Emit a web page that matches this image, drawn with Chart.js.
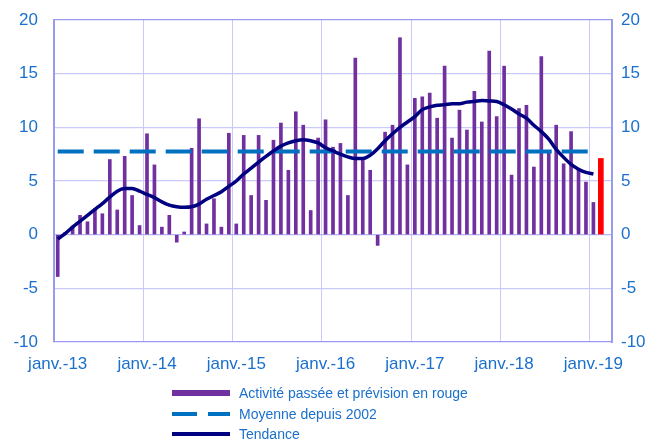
<!DOCTYPE html>
<html>
<head>
<meta charset="utf-8">
<script src="https://cdn.jsdelivr.net/npm/chart.js@4/dist/chart.umd.min.js"></script>
<style>
  html, body { margin: 0; padding: 0; background: #fff; }
  #wrap { position: relative; width: 649px; height: 441px; }
  #legende { position: absolute; left: 172px; top: 383px; font-family: "Liberation Sans", Arial, sans-serif; font-size: 14px; color: #1a70cc; }
  .item { position: relative; height: 20.7px; line-height: 20px; padding-left: 67px; white-space: nowrap; }
  .sym { position: absolute; left: 0; top: 8px; height: 4px; }
</style>
</head>
<body>
<div id="wrap">
  <canvas id="graphique" width="649" height="441"></canvas>
  <div id="legende">
    <div class="item"><span class="sym" style="width:58px;height:6px;top:7px;background:#7030a0"></span>Activité passée et prévision en rouge</div>
    <div class="item"><span class="sym" style="width:25px;background:#0070c0"></span><span class="sym" style="left:36px;width:22px;background:#0070c0"></span>Moyenne depuis 2002</div>
    <div class="item"><span class="sym" style="width:58px;background:#000080"></span>Tendance</div>
  </div>
</div>
<script>
(function () {
    "use strict";

    // ---------------- données ---------------- //
    var mois = ['janv.', 'févr.', 'mars', 'avr.', 'mai', 'juin', 'juil.', 'août', 'sept.', 'oct.', 'nov.', 'déc.'];
    var annees = ['13', '14', '15', '16', '17', '18', '19'];
    var nbMois = 75; // janv.-13 -> mars-19

    // activité mensuelle, janv.-13 à janv.-19
    var activite = [
        -3.9, 0.2, 0.8, 1.8, 1.2, 2.4, 1.95, 7.0, 2.3, 7.3, 3.65, 0.85,
        9.4, 6.5, 0.7, 1.8, -0.7, 0.25, 8.05, 10.8, 1.0, 3.35, 0.7, 9.45,
        1.0, 9.25, 3.65, 9.25, 3.2, 8.8, 10.4, 6.0, 11.45, 10.2, 2.25, 9.0,
        10.7, 8.15, 8.5, 3.65, 16.45, 7.0, 6.0, -1.0, 9.55, 10.2, 18.35, 6.5,
        12.7, 12.85, 13.2, 10.85, 15.7, 9.0, 11.6, 9.75, 13.35, 10.5, 17.1, 11.0,
        15.7, 5.55, 11.75, 12.05, 6.3, 16.6, 7.6, 10.2, 6.6, 9.6, 6.0, 4.9,
        3.0
    ];
    // prévision (en rouge)
    var previsionMois = ['févr.-19'];
    var prevision = [7.1];

    // moyenne depuis 2002
    var moyenneMois = ['janv.-13', 'janv.-19'];
    var moyenne = [7.75, 7.75];

    // tendance, janv.-13 à janv.-19
    var tendance = [
        -0.4, 0.1, 0.7, 1.25, 1.8, 2.35, 2.9, 3.5, 4.05, 4.3, 4.3, 4.05,
        3.75, 3.45, 3.05, 2.75, 2.6, 2.55, 2.6, 2.85, 3.3, 3.65, 4.0, 4.5,
        5.0, 5.65, 6.2, 6.75, 7.3, 7.8, 8.25, 8.55, 8.75, 8.85, 8.75, 8.55,
        8.1, 7.8, 7.5, 7.25, 7.1, 7.1, 7.4, 8.0, 8.75, 9.4, 10.0, 10.5,
        11.0, 11.65, 11.9, 12.05, 12.1, 12.2, 12.2, 12.35, 12.4, 12.5, 12.45, 12.4,
        12.1, 11.7, 11.25, 10.85, 10.2, 9.6, 8.9, 7.95, 7.2, 6.55, 6.1, 5.8,
        5.65
    ];

    var yMin = -10, yMax = 20, yPas = 5;

    // ---------------- styles ---------------- //
    var bleuTexte = '#1a70cc';
    var cadre = '#9a9af0';
    var grille = '#cacafa';
    var police = { family: '"Liberation Sans", Arial, sans-serif', size: 17 };

    // libellés des mois
    var categories = [];
    for (var i = 0; i < nbMois; i++) {
        categories.push(mois[i % 12] + '-' + annees[Math.floor(i / 12)]);
    }

    function pointsDe(libelles, valeurs) {
        return valeurs.map(function (v, k) { return { x: libelles[k], y: v }; });
    }

    function couleurGrilleY(ctx) {
        var v = ctx.tick ? ctx.tick.value : null;
        if (v === yMin || v === yMax) return cadre;
        if (v === 0) return '#b4b4f4';
        return grille;
    }

    // largeur fixe des axes verticaux, sans marge pour les libellés
    function axeVertical(largeur) {
        return function (s) {
            s.width = largeur;
            s.paddingTop = 0;
            s.paddingBottom = 0;
        };
    }

    var ctx = document.getElementById('graphique');
    var chart = new Chart(ctx, {
        data: {
            labels: categories,
            datasets: [
                {
                    type: 'line',
                    label: 'Tendance',
                    data: tendance,
                    borderColor: '#000080',
                    borderWidth: 3.5,
                    pointRadius: 0,
                    tension: 0.4,
                    cubicInterpolationMode: 'monotone',
                    order: 0
                },
                {
                    type: 'line',
                    label: 'Moyenne depuis 2002',
                    data: pointsDe(moyenneMois, moyenne),
                    borderColor: '#0070c0',
                    borderWidth: 4,
                    borderDash: [26, 10],
                    pointRadius: 0,
                    order: 1
                },
                {
                    type: 'bar',
                    label: 'Activité passée et prévision en rouge',
                    data: activite,
                    backgroundColor: '#7030a0',
                    barThickness: 3,
                    grouped: false,
                    order: 2
                },
                {
                    type: 'bar',
                    label: 'Prévision',
                    data: pointsDe(previsionMois, prevision),
                    backgroundColor: '#ff0000',
                    barThickness: 5,
                    grouped: false,
                    order: 2
                }
            ]
        },
        options: {
            responsive: false,
            animation: false,
            layout: { padding: { top: 20, left: 0, right: 0, bottom: 0 } },
            plugins: {
                legend: { display: false },
                tooltip: { enabled: false }
            },
            scales: {
                x: {
                    type: 'category',
                    offset: true,
                    grid: {
                        offset: true,
                        drawTicks: false,
                        lineWidth: 1,
                        color: function (c) { return c.index % 12 === 0 ? grille : 'rgba(0,0,0,0)'; }
                    },
                    border: { display: false },
                    ticks: {
                        autoSkip: false,
                        maxRotation: 0,
                        padding: 12,
                        color: bleuTexte,
                        font: police,
                        callback: function (v, idx) {
                            return idx % 12 === 0 ? this.getLabelForValue(v) : '';
                        }
                    },
                    afterFit: function (s) { s.height = 99; }
                },
                y: {
                    position: 'left',
                    min: yMin,
                    max: yMax,
                    ticks: { stepSize: yPas, padding: 16, color: bleuTexte, font: police },
                    grid: { drawTicks: false, color: couleurGrilleY, lineWidth: 1.2 },
                    border: { display: true, color: cadre, width: 2 },
                    afterFit: axeVertical(54)
                },
                y2: {
                    position: 'right',
                    min: yMin,
                    max: yMax,
                    ticks: { stepSize: yPas, padding: 9, color: bleuTexte, font: police },
                    grid: { display: false, drawTicks: false },
                    border: { display: true, color: cadre, width: 2 },
                    afterFit: axeVertical(37)
                }
            }
        }
    });
})();
</script>
</body>
</html>
